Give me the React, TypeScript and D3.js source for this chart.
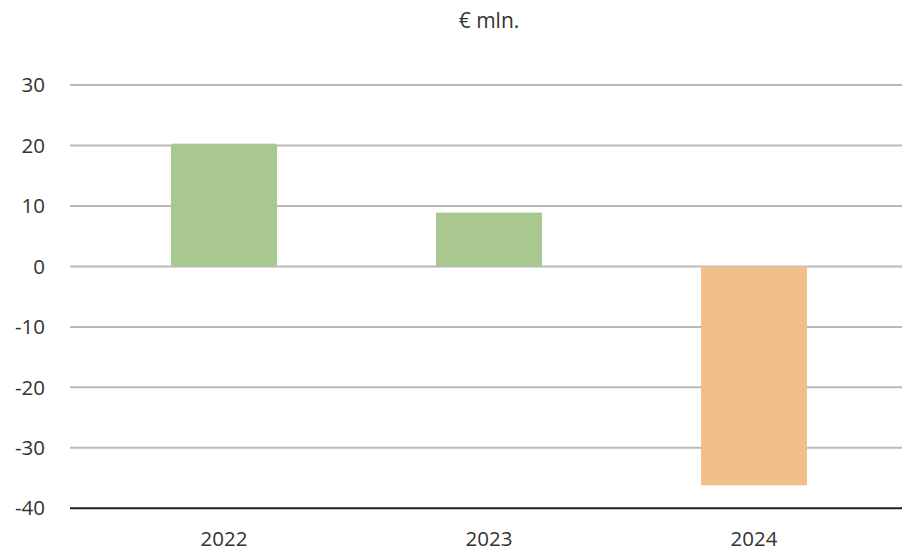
import * as d3 from "d3";
import { useRef, useEffect } from "react";

const years = ["2022", "2023", "2024"];
const values = [20.3, 8.9, -36.2];
const yTicks = [30, 20, 10, 0, -10, -20, -30, -40];

const App = () => {
  const svgRef = useRef(null);

  useEffect(() => {
    const width = 902;
    const height = 554;
    const svg = d3.select(svgRef.current);
    svg.selectAll("*").remove();

    const y = d3.scaleLinear().domain([-40, 30]).range([508.3, 85]);
    const x = d3.scaleBand().domain(years).range([91.5, 886.5]).paddingInner(0.6).paddingOuter(0.3);

    const font = "'Open Sans', sans-serif";

    // gridlines
    svg
      .append("g")
      .selectAll("line")
      .data(yTicks.filter((t) => t !== -40))
      .enter()
      .append("line")
      .attr("x1", 70)
      .attr("x2", width)
      .attr("y1", (d) => y(d))
      .attr("y2", (d) => y(d))
      .attr("stroke", "#bababa")
      .attr("stroke-width", 2);

    svg
      .append("g")
      .selectAll("rect")
      .data(values)
      .enter()
      .append("rect")
      .attr("x", (d, i) => x(years[i]))
      .attr("width", x.bandwidth())
      .attr("y", (d) => y(Math.max(0, d)))
      .attr("height", (d) => Math.abs(y(d) - y(0)))
      .attr("fill", (d) => (d >= 0 ? "#a8c890" : "#f1bf8b"));

    // bottom axis line
    svg
      .append("line")
      .attr("x1", 70)
      .attr("x2", width)
      .attr("y1", y(-40))
      .attr("y2", y(-40))
      .attr("stroke", "#222")
      .attr("stroke-width", 2);

    svg
      .append("g")
      .selectAll("text")
      .data(yTicks)
      .enter()
      .append("text")
      .attr("x", 45)
      .attr("y", (d) => y(d))
      .attr("dy", "0.35em")
      .attr("text-anchor", "end")
      .attr("font-family", font)
      .attr("font-size", 20.5)
      .attr("fill", "#333")
      .text((d) => d);

    svg
      .append("g")
      .selectAll("text")
      .data(years)
      .enter()
      .append("text")
      .attr("x", (d) => x(d) + x.bandwidth() / 2)
      .attr("y", 546)
      .attr("text-anchor", "middle")
      .attr("font-family", font)
      .attr("font-size", 20.5)
      .attr("fill", "#333")
      .text((d) => d);

    svg
      .append("text")
      .attr("x", 489)
      .attr("y", 28)
      .attr("text-anchor", "middle")
      .attr("font-family", font)
      .attr("font-size", 21)
      .attr("fill", "#333")
      .text("€ mln.");
  }, []);

  return (
    <svg
      ref={svgRef}
      width={902}
      height={554}
      style={{ position: "absolute", left: 0, top: 0 }}
    ></svg>
  );
};

export default App;
